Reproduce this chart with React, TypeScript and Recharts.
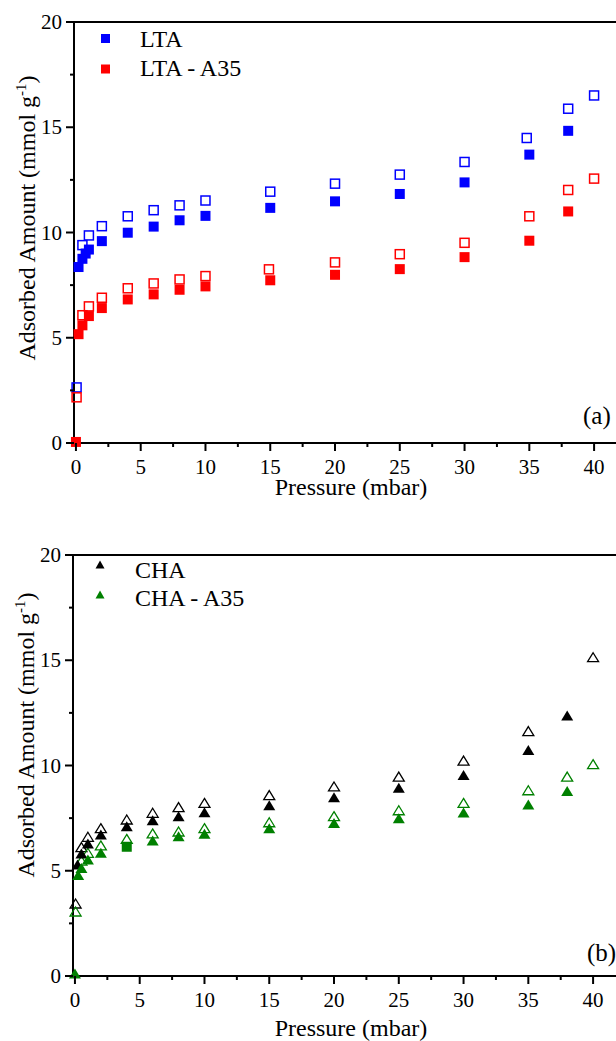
import React from 'react';
import { ScatterChart, Scatter, XAxis, YAxis, ReferenceLine, Legend } from 'recharts';

const FONT = '"Liberation Serif", "Times New Roman", serif';

// ---- panel (a): LTA ----
const ltaAdsP = [0.2, 0.5, 0.75, 1, 2, 4, 6, 8, 10, 15, 20, 25, 30, 35, 38];
const ltaAds = [8.36, 8.75, 9.0, 9.19, 9.59, 9.99, 10.28, 10.58, 10.79, 11.17, 11.48, 11.83, 12.38, 13.7, 14.83];
const ltaDesP = [0.05, 0.5, 1, 2, 4, 6, 8, 10, 15, 20, 25, 30, 34.8, 38, 40];
const ltaDes = [2.64, 9.4, 9.86, 10.3, 10.77, 11.06, 11.29, 11.52, 11.94, 12.32, 12.75, 13.35, 14.49, 15.88, 16.51];
const ltaA35AdsP = [0, 0.2, 0.5, 1, 2, 4, 6, 8, 10, 15, 20, 25, 30, 35, 38];
const ltaA35Ads = [0.05, 5.17, 5.59, 6.03, 6.41, 6.82, 7.06, 7.28, 7.44, 7.73, 7.99, 8.26, 8.83, 9.61, 11.0];
const ltaA35DesP = [0.05, 0.5, 1, 2, 4, 6, 8, 10, 14.9, 20, 25, 30, 35, 38, 40];
const ltaA35Des = [2.17, 6.07, 6.49, 6.9, 7.35, 7.58, 7.77, 7.93, 8.25, 8.58, 8.97, 9.51, 10.77, 12.02, 12.56];

// ---- panel (b): CHA ----
const chaAdsP = [0.2, 0.5, 1, 2, 4, 6, 8, 10, 15, 20, 25, 30, 35, 38];
const chaAds = [5.27, 5.8, 6.27, 6.7, 7.09, 7.38, 7.57, 7.76, 8.09, 8.47, 8.92, 9.52, 10.71, 12.35];
const chaDesP = [0.05, 0.5, 1, 2, 4, 6, 8, 10, 15, 20, 25, 30, 35, 40];
const chaDes = [3.42, 6.1, 6.59, 7.0, 7.41, 7.73, 8.0, 8.2, 8.57, 8.98, 9.45, 10.21, 11.61, 15.12];
const chaA35AdsP = [0, 0.25, 0.5, 1, 2, 6, 8, 10, 15, 20, 25, 30, 35, 38];
const chaA35Ads = [0.1, 4.77, 5.11, 5.51, 5.83, 6.41, 6.62, 6.73, 7.0, 7.24, 7.47, 7.74, 8.12, 8.77];
// one point of the CHA - A35 run is drawn as a square in the original
const chaA35OddP = [4];
const chaA35Odd = [6.14];
const chaA35DesP = [0.05, 0.5, 1, 2, 4, 6, 8, 10, 15, 20, 25, 30, 35, 38, 40];
const chaA35Des = [3.04, 5.46, 5.83, 6.18, 6.49, 6.75, 6.84, 7.0, 7.28, 7.57, 7.85, 8.2, 8.8, 9.45, 10.04];

const xTicks = [0, 2.5, 5, 7.5, 10, 12.5, 15, 17.5, 20, 22.5, 25, 27.5, 30, 32.5, 35, 37.5, 40];
const yTicks = [0, 2.5, 5, 7.5, 10, 12.5, 15, 17.5, 20];

const toPoints = (xs: number[], ys: number[]) => xs.map((x, i) => ({ x, y: ys[i] }));

// marker shapes
const filledSquare = (c: string) => (p: any) => <rect x={p.cx - 5} y={p.cy - 5} width={10} height={10} fill={c} />;
const openSquare = (c: string) => (p: any) => (
  <rect x={p.cx - 4.5} y={p.cy - 4.5} width={9} height={9} fill="none" stroke={c} strokeWidth={1.5} />
);
const filledTri = (c: string) => (p: any) => (
  <polygon points={`${p.cx},${p.cy - 5.5} ${p.cx + 6},${p.cy + 4.5} ${p.cx - 6},${p.cy + 4.5}`} fill={c} />
);
const openTri = (c: string) => (p: any) => (
  <polygon points={`${p.cx},${p.cy - 5} ${p.cx + 5.5},${p.cy + 4} ${p.cx - 5.5},${p.cy + 4}`} fill="none" stroke={c} strokeWidth={1.3} />
);

function XTick({ x, y, payload }: any) {
  const major = payload.value % 5 === 0;
  return (
    <g>
      <line x1={x} x2={x} y1={y} y2={y + (major ? 8 : 4)} stroke="#000" strokeWidth={2} />
      {major && (
        <text x={x} y={y + 31} textAnchor="middle" fontSize={21} fontFamily={FONT} fill="#000">
          {payload.value}
        </text>
      )}
    </g>
  );
}

function YTick({ x, y, payload }: any) {
  const major = payload.value % 5 === 0;
  return (
    <g>
      <line x1={x - (major ? 8 : 4)} x2={x} y1={y} y2={y} stroke="#000" strokeWidth={2} />
      {major && (
        <text x={x - 12} y={y + 7} textAnchor="end" fontSize={21} fontFamily={FONT} fill="#000">
          {payload.value}
        </text>
      )}
    </g>
  );
}

interface SeriesDef {
  name: string;
  data: { x: number; y: number }[];
  shape: (p: any) => React.ReactElement;
  inLegend?: boolean;
}

interface LegendDef {
  label: string;
  marker: 'square' | 'triangle';
  color: string;
  mx: number;
  my: number;
  tx: number;
  ty: number;
}

interface PanelProps {
  left: number;
  top: number;
  series: SeriesDef[];
  legend: LegendDef[];
  letter: string;
  letterX: number;
  letterY: number;
  yTitleY: number;
  xTitleX: number;
  xTitleY: number;
}

function Panel({ left, top, series, legend, letter, letterX, letterY, yTitleY, xTitleX, xTitleY }: PanelProps) {
  const W = 640;
  const H = 559;
  return (
    <div style={{ position: 'absolute', left, top, width: W, height: H }}>
      <ScatterChart width={W} height={H} margin={{ top: 22, right: 20, bottom: 60, left: 0 }}>
        <XAxis
          type="number"
          dataKey="x"
          domain={[-0.15, 42]}
          ticks={xTicks}
          interval={0}
          height={56}
          tickSize={0}
          tickMargin={0}
          tickLine={false}
          axisLine={{ stroke: '#000', strokeWidth: 2 }}
          tick={(p: any) => <XTick {...p} />}
          label={() => (
            <text x={xTitleX} y={xTitleY} textAnchor="middle" fontSize={24} fontFamily={FONT} fill="#000">
              Pressure (mbar)
            </text>
          )}
        />
        <YAxis
          type="number"
          dataKey="y"
          domain={[0, 20]}
          ticks={yTicks}
          interval={0}
          width={74}
          tickSize={0}
          tickMargin={0}
          tickLine={false}
          axisLine={{ stroke: '#000', strokeWidth: 2 }}
          tick={(p: any) => <YTick {...p} />}
          label={() => (
            <text
              x={35}
              y={yTitleY}
              transform={`rotate(-90 35 ${yTitleY})`}
              textAnchor="middle"
              fontSize={24}
              fontFamily={FONT}
              fill="#000"
            >
              Adsorbed Amount (mmol g
              <tspan dy={-9} fontSize={15}>-1</tspan>
              <tspan dy={9}>)</tspan>
            </text>
          )}
        />
        <ReferenceLine y={20} stroke="#000" strokeWidth={2} />
        {series.map((s) => (
          <Scatter
            key={s.name}
            name={s.name}
            data={s.data}
            shape={s.shape}
            isAnimationActive={false}
            legendType={s.inLegend ? 'square' : 'none'}
          />
        ))}
        <Legend
          layout="horizontal"
          verticalAlign="middle"
          align="center"
          wrapperStyle={{ position: 'absolute', left: 0, top: 0, width: 300, height: 100 }}
          content={() => (
            <svg width={300} height={100} style={{ display: 'block' }}>
              {legend.map((l) => (
                <g key={l.label}>
                  {l.marker === 'square' ? (
                    <rect x={l.mx - 4.5} y={l.my - 4.5} width={9} height={9} fill={l.color} />
                  ) : (
                    <polygon
                      points={`${l.mx},${l.my - 4.5} ${l.mx + 4.5},${l.my + 3.5} ${l.mx - 4.5},${l.my + 3.5}`}
                      fill={l.color}
                    />
                  )}
                  <text x={l.tx} y={l.ty} fontSize={24} fontFamily={FONT} fill="#000">
                    {l.label}
                  </text>
                </g>
              ))}
            </svg>
          )}
        />
      </ScatterChart>
      <svg
        width={W}
        height={H}
        style={{ position: 'absolute', left: 0, top: 0, pointerEvents: 'none' }}
      >
        <text x={letterX} y={letterY} fontSize={25} fontFamily={FONT} fill="#000">
          {letter}
        </text>
      </svg>
    </div>
  );
}

export default function App() {
  const topSeries: SeriesDef[] = [
    { name: 'LTA des', data: toPoints(ltaDesP, ltaDes), shape: openSquare('#0000ff') },
    { name: 'LTA - A35 des', data: toPoints(ltaA35DesP, ltaA35Des), shape: openSquare('#ff0000') },
    { name: 'LTA', data: toPoints(ltaAdsP, ltaAds), shape: filledSquare('#0000ff'), inLegend: true },
    { name: 'LTA - A35', data: toPoints(ltaA35AdsP, ltaA35Ads), shape: filledSquare('#ff0000'), inLegend: true },
  ];
  const bottomSeries: SeriesDef[] = [
    { name: 'CHA des', data: toPoints(chaDesP, chaDes), shape: openTri('#000000') },
    { name: 'CHA - A35 des', data: toPoints(chaA35DesP, chaA35Des), shape: openTri('#008000') },
    { name: 'CHA', data: toPoints(chaAdsP, chaAds), shape: filledTri('#000000'), inLegend: true },
    { name: 'CHA - A35', data: toPoints(chaA35AdsP, chaA35Ads), shape: filledTri('#008000'), inLegend: true },
    { name: 'CHA - A35 sq', data: toPoints(chaA35OddP, chaA35Odd), shape: filledSquare('#008000') },
  ];

  return (
    <div
      style={{
        position: 'absolute',
        left: 0,
        top: 0,
        width: 616,
        height: 1041,
        overflow: 'hidden',
        background: '#fff',
        fontFamily: FONT,
      }}
    >
      <Panel
        left={0}
        top={0}
        series={topSeries}
        legend={[
          { label: 'LTA', marker: 'square', color: '#0000ff', mx: 105.5, my: 38.5, tx: 140, ty: 46.7 },
          { label: 'LTA - A35', marker: 'square', color: '#ff0000', mx: 105.5, my: 69, tx: 140, ty: 76 },
        ]}
        letter="(a)"
        letterX={583}
        letterY={424}
        yTitleY={218}
        xTitleX={351}
        xTitleY={495}
      />
      <Panel
        left={-1}
        top={533}
        series={bottomSeries}
        legend={[
          { label: 'CHA', marker: 'triangle', color: '#000000', mx: 101, my: 32, tx: 136, ty: 44.7 },
          { label: 'CHA - A35', marker: 'triangle', color: '#008000', mx: 101, my: 62, tx: 136, ty: 73 },
        ]}
        letter="(b)"
        letterX={588}
        letterY={428}
        yTitleY={202}
        xTitleX={352}
        xTitleY={503}
      />
    </div>
  );
}
